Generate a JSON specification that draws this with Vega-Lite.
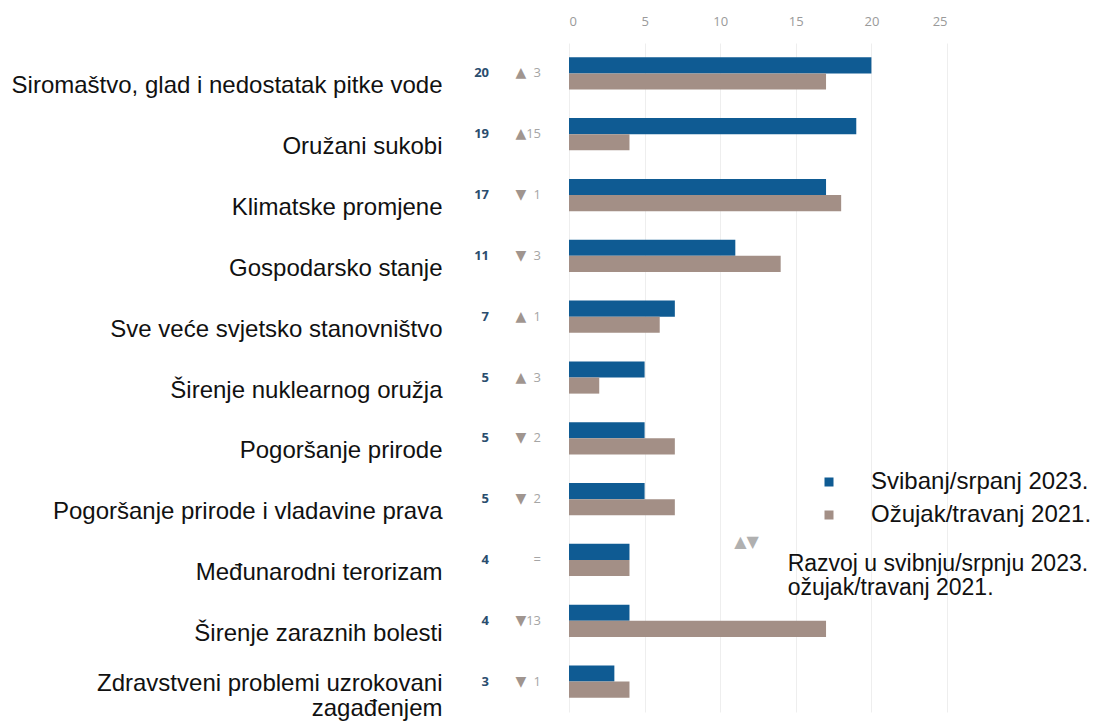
{
  "$schema": "https://vega.github.io/schema/vega-lite/v6.json",
  "width": 378,
  "height": 669,
  "autosize": "none",
  "padding": {"left": 569, "top": 43, "right": 157, "bottom": 10},
  "background": "white",
  "config": {"view": {"stroke": null}, "font": "Liberation Sans"},
  "datasets": {
    "bars": [
      {"category": "Siromaštvo, glad i nedostatak pitke vode", "period": "Svibanj/srpanj 2023.", "value": 20},
      {"category": "Siromaštvo, glad i nedostatak pitke vode", "period": "Ožujak/travanj 2021.", "value": 17},
      {"category": "Oružani sukobi", "period": "Svibanj/srpanj 2023.", "value": 19},
      {"category": "Oružani sukobi", "period": "Ožujak/travanj 2021.", "value": 4},
      {"category": "Klimatske promjene", "period": "Svibanj/srpanj 2023.", "value": 17},
      {"category": "Klimatske promjene", "period": "Ožujak/travanj 2021.", "value": 18},
      {"category": "Gospodarsko stanje", "period": "Svibanj/srpanj 2023.", "value": 11},
      {"category": "Gospodarsko stanje", "period": "Ožujak/travanj 2021.", "value": 14},
      {"category": "Sve veće svjetsko stanovništvo", "period": "Svibanj/srpanj 2023.", "value": 7},
      {"category": "Sve veće svjetsko stanovništvo", "period": "Ožujak/travanj 2021.", "value": 6},
      {"category": "Širenje nuklearnog oružja", "period": "Svibanj/srpanj 2023.", "value": 5},
      {"category": "Širenje nuklearnog oružja", "period": "Ožujak/travanj 2021.", "value": 2},
      {"category": "Pogoršanje prirode", "period": "Svibanj/srpanj 2023.", "value": 5},
      {"category": "Pogoršanje prirode", "period": "Ožujak/travanj 2021.", "value": 7},
      {"category": "Pogoršanje prirode i vladavine prava", "period": "Svibanj/srpanj 2023.", "value": 5},
      {"category": "Pogoršanje prirode i vladavine prava", "period": "Ožujak/travanj 2021.", "value": 7},
      {"category": "Međunarodni terorizam", "period": "Svibanj/srpanj 2023.", "value": 4},
      {"category": "Međunarodni terorizam", "period": "Ožujak/travanj 2021.", "value": 4},
      {"category": "Širenje zaraznih bolesti", "period": "Svibanj/srpanj 2023.", "value": 4},
      {"category": "Širenje zaraznih bolesti", "period": "Ožujak/travanj 2021.", "value": 17},
      {"category": "Zdravstveni problemi uzrokovani zagađenjem", "period": "Svibanj/srpanj 2023.", "value": 3},
      {"category": "Zdravstveni problemi uzrokovani zagađenjem", "period": "Ožujak/travanj 2021.", "value": 4}
    ],
    "labels": [
      {"category": "Siromaštvo, glad i nedostatak pitke vode", "now": "20", "tri": "▲", "delta": "3"},
      {"category": "Oružani sukobi", "now": "19", "tri": "▲", "delta": "15"},
      {"category": "Klimatske promjene", "now": "17", "tri": "▼", "delta": "1"},
      {"category": "Gospodarsko stanje", "now": "11", "tri": "▼", "delta": "3"},
      {"category": "Sve veće svjetsko stanovništvo", "now": "7", "tri": "▲", "delta": "1"},
      {"category": "Širenje nuklearnog oružja", "now": "5", "tri": "▲", "delta": "3"},
      {"category": "Pogoršanje prirode", "now": "5", "tri": "▼", "delta": "2"},
      {"category": "Pogoršanje prirode i vladavine prava", "now": "5", "tri": "▼", "delta": "2"},
      {"category": "Međunarodni terorizam", "now": "4", "tri": "", "delta": "="},
      {"category": "Širenje zaraznih bolesti", "now": "4", "tri": "▼", "delta": "13"},
      {"category": "Zdravstveni problemi uzrokovani zagađenjem", "now": "3", "tri": "▼", "delta": "1"}
    ]
  },
  "encoding": {
    "y": {
      "field": "category",
      "type": "nominal",
      "sort": null,
      "scale": {
        "domain": [
          "Siromaštvo, glad i nedostatak pitke vode",
          "Oružani sukobi",
          "Klimatske promjene",
          "Gospodarsko stanje",
          "Sve veće svjetsko stanovništvo",
          "Širenje nuklearnog oružja",
          "Pogoršanje prirode",
          "Pogoršanje prirode i vladavine prava",
          "Međunarodni terorizam",
          "Širenje zaraznih bolesti",
          "Zdravstveni problemi uzrokovani zagađenjem"
        ],
        "paddingInner": 0.47,
        "paddingOuter": 0.235
      },
      "axis": {
        "title": null,
        "domain": false,
        "ticks": false,
        "labelPadding": 127,
        "labelOffset": {"condition": {"test": "datum.value == 'Zdravstveni problemi uzrokovani zagađenjem'", "value": 2}, "value": 13},
        "labelFontSize": 24,
        "labelColor": "#111111",
        "labelFont": "Liberation Sans",
        "labelLimit": 600,
        "labelLineHeight": 25,
        "labelExpr": "datum.value == 'Zdravstveni problemi uzrokovani zagađenjem' ? ['Zdravstveni problemi uzrokovani', 'zagađenjem'] : datum.value"
      }
    }
  },
  "layer": [
    {
      "data": {"name": "bars"},
      "mark": {"type": "bar"},
      "encoding": {
        "x": {
          "field": "value",
          "type": "quantitative",
          "scale": {"domain": [0, 25], "nice": false},
          "axis": {
            "orient": "top",
            "values": [0, 5, 10, 15, 20, 25],
            "grid": true,
            "gridColor": "#eeeeee",
            "domain": false,
            "ticks": false,
            "labelColor": "#9a9a9a",
            "labelFontSize": 13,
            "labelFont": "Open Sans",
            "labelPadding": 15,
            "title": null
          }
        },
        "yOffset": {"field": "period", "type": "nominal", "sort": ["Svibanj/srpanj 2023.", "Ožujak/travanj 2021."]},
        "color": {
          "field": "period",
          "type": "nominal",
          "scale": {"domain": ["Svibanj/srpanj 2023.", "Ožujak/travanj 2021."], "range": ["#0f5b93", "#a38f86"]},
          "legend": {
            "orient": "none",
            "legendX": 248,
            "legendY": 427,
            "title": null,
            "symbolType": "square",
            "symbolSize": 81,
            "symbolStrokeWidth": 0,
            "labelFontSize": 24,
            "labelFont": "Liberation Sans",
            "labelColor": "#111111",
            "labelOffset": 30,
            "labelLimit": 400,
            "rowPadding": 9
          }
        }
      }
    },
    {
      "data": {"name": "labels"},
      "mark": {"type": "text", "align": "right", "baseline": "middle", "dx": -80, "fontSize": 13, "fontWeight": "bold", "color": "#2a4d6e", "font": "Open Sans"},
      "encoding": {"x": {"datum": 0}, "text": {"field": "now"}}
    },
    {
      "data": {"name": "labels"},
      "mark": {"type": "text", "align": "center", "baseline": "middle", "dx": -48, "fontSize": 14, "color": "#a0958f", "font": "DejaVu Sans"},
      "encoding": {"x": {"datum": 0}, "text": {"field": "tri"}}
    },
    {
      "data": {"name": "labels"},
      "mark": {"type": "text", "align": "right", "baseline": "middle", "dx": -28, "fontSize": 13, "color": "#a5a5a5", "font": "Open Sans"},
      "encoding": {"x": {"datum": 0}, "text": {"field": "delta"}}
    },
    {
      "data": {"values": [{"sym": "▲▼"}]},
      "mark": {"type": "text", "align": "center", "baseline": "middle", "dx": -4, "dy": -18, "fontSize": 16, "color": "#b0b0b0", "font": "DejaVu Sans"},
      "encoding": {"x": {"datum": 12}, "y": {"datum": "Međunarodni terorizam"}, "text": {"field": "sym"}}
    },
    {
      "data": {"values": [{"note": "Razvoj u svibnju/srpnju 2023.\nožujak/travanj 2021."}]},
      "mark": {"type": "text", "align": "left", "baseline": "alphabetic", "lineBreak": "\n", "lineHeight": 24, "dx": 7, "dy": 11, "fontSize": 23, "color": "#111111", "font": "Liberation Sans"},
      "encoding": {"x": {"datum": 14}, "y": {"datum": "Međunarodni terorizam"}, "text": {"field": "note"}}
    }
  ]
}
